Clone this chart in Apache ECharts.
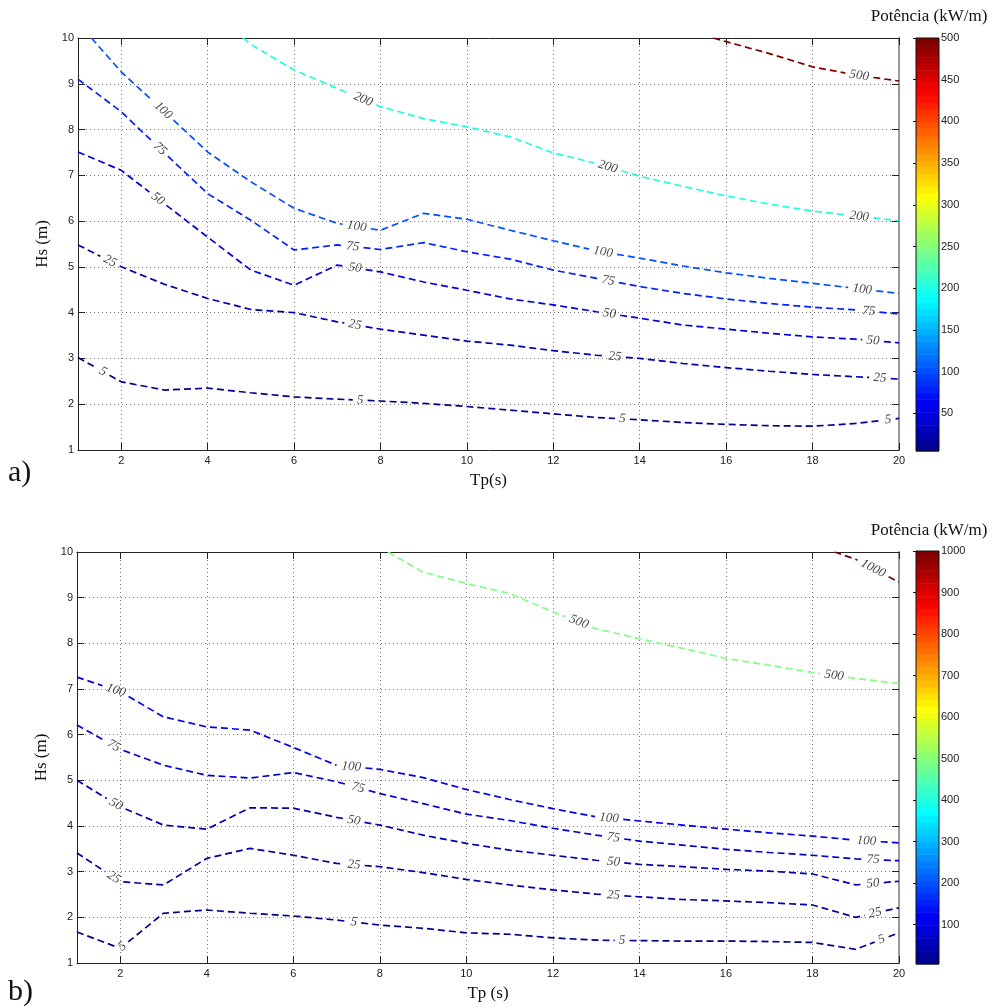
<!DOCTYPE html>
<html><head><meta charset="utf-8">
<script src="https://cdn.jsdelivr.net/npm/echarts@6.0.0/dist/echarts.min.js"></script>
<style>html,body{margin:0;padding:0;background:#fff}#c{width:995px;height:1008px}</style>
</head><body><div id="c"></div>
<script>
// ---------- data ----------
const TP_INT = [1,2,3,4,5,6,7,8,9,10,11,12,13,14,15,16,17,18,19,20];
const X_TICKS = [2,4,6,8,10,12,14,16,18,20];

// panel a)
const A_CMIN = 5, A_CMAX = 500;
const A_CBAR_TICKS = [50,100,150,200,250,300,350,400,450,500];
const A_5_TP = TP_INT;
const A_5_HS = [3.02,2.49,2.31,2.35,2.25,2.16,2.11,2.07,2.02,1.95,1.87,1.79,1.71,1.66,1.60,1.56,1.53,1.52,1.58,1.69];
const A_5_LAB = [1.58,7.53,13.6,19.75];
const A_25_TP = TP_INT;
const A_25_HS = [5.48,5.00,4.62,4.31,4.07,4.00,3.80,3.64,3.51,3.38,3.29,3.17,3.07,3.00,2.89,2.80,2.72,2.65,2.60,2.55];
const A_25_LAB = [1.74,7.41,13.43,19.56];
const A_50_TP = TP_INT;
const A_50_HS = [7.51,7.11,6.38,5.65,4.93,4.60,5.04,4.89,4.67,4.49,4.30,4.17,4.02,3.88,3.73,3.64,3.55,3.47,3.42,3.34];
const A_50_LAB = [2.85,7.41,13.3,19.4];
const A_75_TP = TP_INT;
const A_75_HS = [9.10,8.39,7.49,6.60,6.02,5.37,5.48,5.38,5.53,5.33,5.17,4.93,4.75,4.57,4.42,4.30,4.20,4.12,4.06,3.97];
const A_75_LAB = [2.9,7.36,13.27,19.3];
const A_100_TP = [1.31,2,3,4,5,6,7,8,9,10,11,12,13,14,15,16,17,18,19,20];
const A_100_HS = [10,9.26,8.39,7.51,6.86,6.28,5.95,5.80,6.17,6.04,5.80,5.57,5.35,5.19,5.02,4.87,4.75,4.64,4.53,4.42];
const A_100_LAB = [2.97,7.45,13.15,19.15];
const A_200_TP = [4.82,5,6,7,8,9,10,11,12,13,14,15,16,17,18,19,20];
const A_200_HS = [10,9.86,9.30,8.90,8.50,8.24,8.06,7.84,7.49,7.26,6.98,6.76,6.55,6.37,6.22,6.11,6.01];
const A_200_LAB = [7.6,13.26,19.08];
const A_500_TP = [15.70,16,17,18,19,20];
const A_500_HS = [10,9.92,9.66,9.37,9.19,9.06];
const A_500_LAB = [19.08];

// panel b)
const B_CMIN = 5, B_CMAX = 1000;
const B_CBAR_TICKS = [100,200,300,400,500,600,700,800,900,1000];
const B_5_TP = TP_INT;
const B_5_HS = [1.68,1.32,2.09,2.16,2.09,2.03,1.94,1.83,1.76,1.66,1.63,1.55,1.50,1.49,1.48,1.48,1.47,1.45,1.30,1.66];
const B_5_LAB = [2.05,7.4,13.6,19.6];
const B_25_TP = TP_INT;
const B_25_HS = [3.41,2.78,2.71,3.29,3.51,3.36,3.18,3.11,2.98,2.83,2.71,2.60,2.51,2.45,2.39,2.36,2.32,2.27,2.00,2.21];
const B_25_LAB = [1.85,7.4,13.4,19.45];
const B_50_TP = TP_INT;
const B_50_HS = [5.00,4.42,4.02,3.93,4.40,4.39,4.19,4.02,3.80,3.62,3.47,3.36,3.25,3.16,3.11,3.05,3.01,2.95,2.71,2.79];
const B_50_LAB = [1.9,7.4,13.4,19.4];
const B_75_TP = TP_INT;
const B_75_HS = [6.21,5.68,5.33,5.11,5.05,5.17,4.97,4.71,4.49,4.26,4.12,3.95,3.80,3.67,3.58,3.49,3.42,3.36,3.28,3.24];
const B_75_LAB = [1.85,7.5,13.4,19.4];
const B_100_TP = TP_INT;
const B_100_HS = [7.26,6.94,6.39,6.17,6.10,5.72,5.33,5.24,5.06,4.80,4.58,4.38,4.20,4.11,4.02,3.93,3.85,3.78,3.69,3.63];
const B_100_LAB = [1.9,7.34,13.3,19.25];
const B_500_TP = [8.19,9,10,11,12,13,14,15,16,17,18,19,20];
const B_500_HS = [10,9.56,9.31,9.09,8.69,8.32,8.10,7.89,7.67,7.52,7.36,7.23,7.12];
const B_500_LAB = [12.6,18.5];
const B_1000_TP = [18.51,19,20];
const B_1000_HS = [10,9.84,9.34];
const B_1000_LAB = [19.4];

// ---------- build ----------
const SERIF = '"Liberation Serif","Times New Roman",serif';
const SANS = '"Liberation Sans",Arial,sans-serif';
const panelA = [
  {level:5, tp:A_5_TP, hs:A_5_HS, lab:A_5_LAB},
  {level:25, tp:A_25_TP, hs:A_25_HS, lab:A_25_LAB},
  {level:50, tp:A_50_TP, hs:A_50_HS, lab:A_50_LAB},
  {level:75, tp:A_75_TP, hs:A_75_HS, lab:A_75_LAB},
  {level:100, tp:A_100_TP, hs:A_100_HS, lab:A_100_LAB},
  {level:200, tp:A_200_TP, hs:A_200_HS, lab:A_200_LAB},
  {level:500, tp:A_500_TP, hs:A_500_HS, lab:A_500_LAB}
];
const panelB = [
  {level:5, tp:B_5_TP, hs:B_5_HS, lab:B_5_LAB},
  {level:25, tp:B_25_TP, hs:B_25_HS, lab:B_25_LAB},
  {level:50, tp:B_50_TP, hs:B_50_HS, lab:B_50_LAB},
  {level:75, tp:B_75_TP, hs:B_75_HS, lab:B_75_LAB},
  {level:100, tp:B_100_TP, hs:B_100_HS, lab:B_100_LAB},
  {level:500, tp:B_500_TP, hs:B_500_HS, lab:B_500_LAB},
  {level:1000, tp:B_1000_TP, hs:B_1000_HS, lab:B_1000_LAB}
];

// MATLAB-style jet(64) colormap
const JET = (function(){
  const n = 64, m = 16;
  const u = [];
  for (let i = 1; i <= m; i++) u.push(i/m);
  for (let i = 1; i < m; i++) u.push(1);
  for (let i = m; i >= 1; i--) u.push(i/m);
  const R = new Array(n).fill(0), G = new Array(n).fill(0), B = new Array(n).fill(0);
  for (let k = 0; k < u.length; k++) {
    const g = 8 + k;
    const r = g + m, b = g - m;
    if (g >= 0 && g < n) G[g] = u[k];
    if (r >= 0 && r < n) R[r] = u[k];
    if (b >= 0 && b < n) B[b] = u[k];
  }
  const out = [];
  for (let i = 0; i < n; i++) out.push('rgb(' + Math.round(R[i]*255) + ',' + Math.round(G[i]*255) + ',' + Math.round(B[i]*255) + ')');
  return out;
})();
function jetAt(t){
  const i = Math.max(0, Math.min(63, Math.floor(t*64)));
  return JET[i];
}

const chart = echarts.init(document.getElementById('c'), null, {renderer:'canvas'});

function mainX(gridIndex, name, top){
  return {
    type:'value', gridIndex, min:1, max:20, position: top ? 'top' : 'bottom',
    name: top ? '' : name, nameLocation:'middle', nameGap:22,
    nameTextStyle:{fontFamily:SERIF, fontSize:17, color:'#111'},
    axisLine:{show:true, onZero:false, lineStyle:{color:'#222', width:1}},
    axisTick:{show:true, inside:true, length:7, customValues:X_TICKS, lineStyle:{color:'#222'}},
    axisLabel:{show:!top, customValues:X_TICKS, margin:5, fontFamily:SANS, fontSize:11, color:'#222'},
    splitLine:{show:!top, lineStyle:{color:'#777', type:[1,3], width:1}}
  };
}
function mainY(gridIndex, right){
  return {
    type:'value', gridIndex, min:1, max:10, interval:1, position: right ? 'right' : 'left',
    name: right ? '' : 'Hs (m)', nameLocation:'middle', nameGap:22, nameRotate:90,
    nameTextStyle:{fontFamily:SERIF, fontSize:17, color:'#111'},
    axisLine:{show:true, onZero:false, lineStyle:{color: right ? '#999' : '#222', width: right ? 2 : 1}},
    axisTick:{show:true, inside:true, length:7, lineStyle:{color:'#222'}},
    axisLabel:{show:!right, margin:4, fontFamily:SANS, fontSize:11, color:'#222'},
    splitLine:{show:!right, lineStyle:{color:'#777', type:[1,3], width:1}}
  };
}
function cbarY(gridIndex, cmin, cmax, ticks, right){
  return {
    type:'value', gridIndex, min:cmin, max:cmax, position: right ? 'right' : 'left',
    axisLine:{show:false},
    axisTick:{show:true, inside:true, length:3, customValues:ticks, lineStyle:{color:'#111'}},
    axisLabel:{show:right, customValues:ticks, margin:2, formatter: v => String(v),
      fontFamily:SANS, fontSize:11, color:'#222'},
    splitLine:{show:false}
  };
}
function cbarSeries(xAxisIndex, yAxisIndex, cmin, cmax){
  const N = 64;
  const bins = [];
  for (let i = 0; i <= N; i++) bins.push(i);
  return {
    type:'custom', xAxisIndex, yAxisIndex, data:bins, silent:true, animation:false, z:2,
    renderItem: (params, api) => {
      const i = api.value(0);
      if (i === N) {
        const p0 = api.coord([0, cmax]), p1 = api.coord([1, cmin]);
        return {type:'rect', shape:{x:p0[0], y:p0[1], width:p1[0]-p0[0], height:p1[1]-p0[1]},
                style:{fill:'none', stroke:'#111', lineWidth:1}, z2:10};
      }
      const v0 = cmin + (cmax-cmin)*i/N, v1 = cmin + (cmax-cmin)*(i+1)/N;
      const p0 = api.coord([0, v1]), p1 = api.coord([1, v0]);
      return {type:'rect', shape:{x:p0[0], y:p0[1], width:p1[0]-p0[0], height:p1[1]-p0[1]+0.5},
              style:{fill: JET[i], stroke:null}};
    }
  };
}

const base = {
  animation:false,
  backgroundColor:'#fff',
  grid:[
    {left:78, top:38, width:821, height:412},
    {left:916, top:38, width:23, height:413},
    {left:77, top:552, width:822, height:411},
    {left:916, top:551, width:23, height:413}
  ],
  xAxis:[
    mainX(0,'Tp(s)',false), mainX(0,'',true),
    {type:'value', gridIndex:1, min:0, max:1, show:false},
    mainX(2,'Tp (s)',false), mainX(2,'',true),
    {type:'value', gridIndex:3, min:0, max:1, show:false}
  ],
  yAxis:[
    mainY(0,false), mainY(0,true),
    cbarY(1, A_CMIN, A_CMAX, A_CBAR_TICKS, true), cbarY(1, A_CMIN, A_CMAX, A_CBAR_TICKS, false),
    mainY(2,false), mainY(2,true),
    cbarY(3, B_CMIN, B_CMAX, B_CBAR_TICKS, true), cbarY(3, B_CMIN, B_CMAX, B_CBAR_TICKS, false)
  ],
  graphic:[
    {type:'text', x:929, y:17, style:{text:'Potência (kW/m)', font:'17px ' + SERIF, fill:'#111', align:'center', verticalAlign:'middle'}},
    {type:'text', x:929, y:531, style:{text:'Potência (kW/m)', font:'17px ' + SERIF, fill:'#111', align:'center', verticalAlign:'middle'}},
    {type:'text', x:8, y:473, style:{text:'a)', font:'30px ' + SERIF, fill:'#111', align:'left', verticalAlign:'middle'}},
    {type:'text', x:8, y:992, style:{text:'b)', font:'30px ' + SERIF, fill:'#111', align:'left', verticalAlign:'middle'}}
  ],
  series:[
    cbarSeries(2, 2, A_CMIN, A_CMAX),
    cbarSeries(5, 6, B_CMIN, B_CMAX)
  ]
};
chart.setOption(base);

function buildPanel(contours, cmin, cmax, xAxisIndex, yAxisIndex){
  const out = [];
  const labelData = [];
  const toPx = (x, y) => chart.convertToPixel({xAxisIndex, yAxisIndex}, [x, y]);
  contours.forEach(c => {
    const color = jetAt((c.level - cmin)/(cmax - cmin));
    const px = c.tp.map((x, i) => toPx(x, c.hs[i]));
    const cum = [0];
    for (let i = 1; i < px.length; i++) cum.push(cum[i-1] + Math.hypot(px[i][0]-px[i-1][0], px[i][1]-px[i-1][1]));
    const total = cum[cum.length-1];
    const gaps = [];
    c.lab.forEach(l => {
      let i = 0;
      while (i < c.tp.length-2 && l > c.tp[i+1]) i++;
      const f = (l - c.tp[i])/(c.tp[i+1]-c.tp[i]);
      const s = cum[i] + f*(cum[i+1]-cum[i]);
      const dx = px[i+1][0]-px[i][0], dy = px[i+1][1]-px[i][1];
      let ang = -Math.atan2(dy, dx)*180/Math.PI;
      if (ang > 90) ang -= 180;
      if (ang < -90) ang += 180;
      const x = c.tp[i] + f*(c.tp[i+1]-c.tp[i]);
      const y = c.hs[i] + f*(c.hs[i+1]-c.hs[i]);
      const txt = String(c.level);
      const hw = txt.length*3.4 + 4;
      gaps.push([s-hw, s+hw]);
      labelData.push({value:[x, y, c.level], label:{rotate:ang}});
    });
    gaps.sort((a, b) => a[0]-b[0]);
    const vis = [];
    let cur = 0;
    gaps.forEach(g => { if (g[0] > cur) vis.push([cur, Math.min(g[0], total)]); cur = Math.max(cur, g[1]); });
    if (cur < total) vis.push([cur, total]);
    const at = s => {
      let j = 0;
      while (j < cum.length-2 && s > cum[j+1]) j++;
      const seg = cum[j+1]-cum[j];
      const t = seg > 0 ? (s-cum[j])/seg : 0;
      return [c.tp[j] + t*(c.tp[j+1]-c.tp[j]), c.hs[j] + t*(c.hs[j+1]-c.hs[j])];
    };
    vis.forEach(([a, b]) => {
      if (b - a < 0.5) return;
      const d = [at(a)];
      for (let i = 0; i < cum.length; i++) if (cum[i] > a && cum[i] < b) d.push([c.tp[i], c.hs[i]]);
      d.push(at(b));
      out.push({type:'line', xAxisIndex, yAxisIndex, data:d, showSymbol:false, symbol:'none',
        lineStyle:{color, width:1.7, type:[7,4]}, silent:true, z:3, animation:false});
    });
  });
  out.push({type:'scatter', xAxisIndex, yAxisIndex, data:labelData, symbolSize:1,
    itemStyle:{color:'rgba(0,0,0,0)'}, silent:true, z:5, animation:false,
    label:{show:true, position:'inside', formatter: p => String(p.value[2]),
      fontFamily:SERIF, fontStyle:'italic', fontSize:13, color:'#111'}});
  return out;
}

const seriesAll = [cbarSeries(2, 2, A_CMIN, A_CMAX), cbarSeries(5, 6, B_CMIN, B_CMAX)]
  .concat(buildPanel(panelA, A_CMIN, A_CMAX, 0, 0))
  .concat(buildPanel(panelB, B_CMIN, B_CMAX, 3, 4));
chart.setOption({series: seriesAll}, {replaceMerge:['series']});
</script>
</body></html>
